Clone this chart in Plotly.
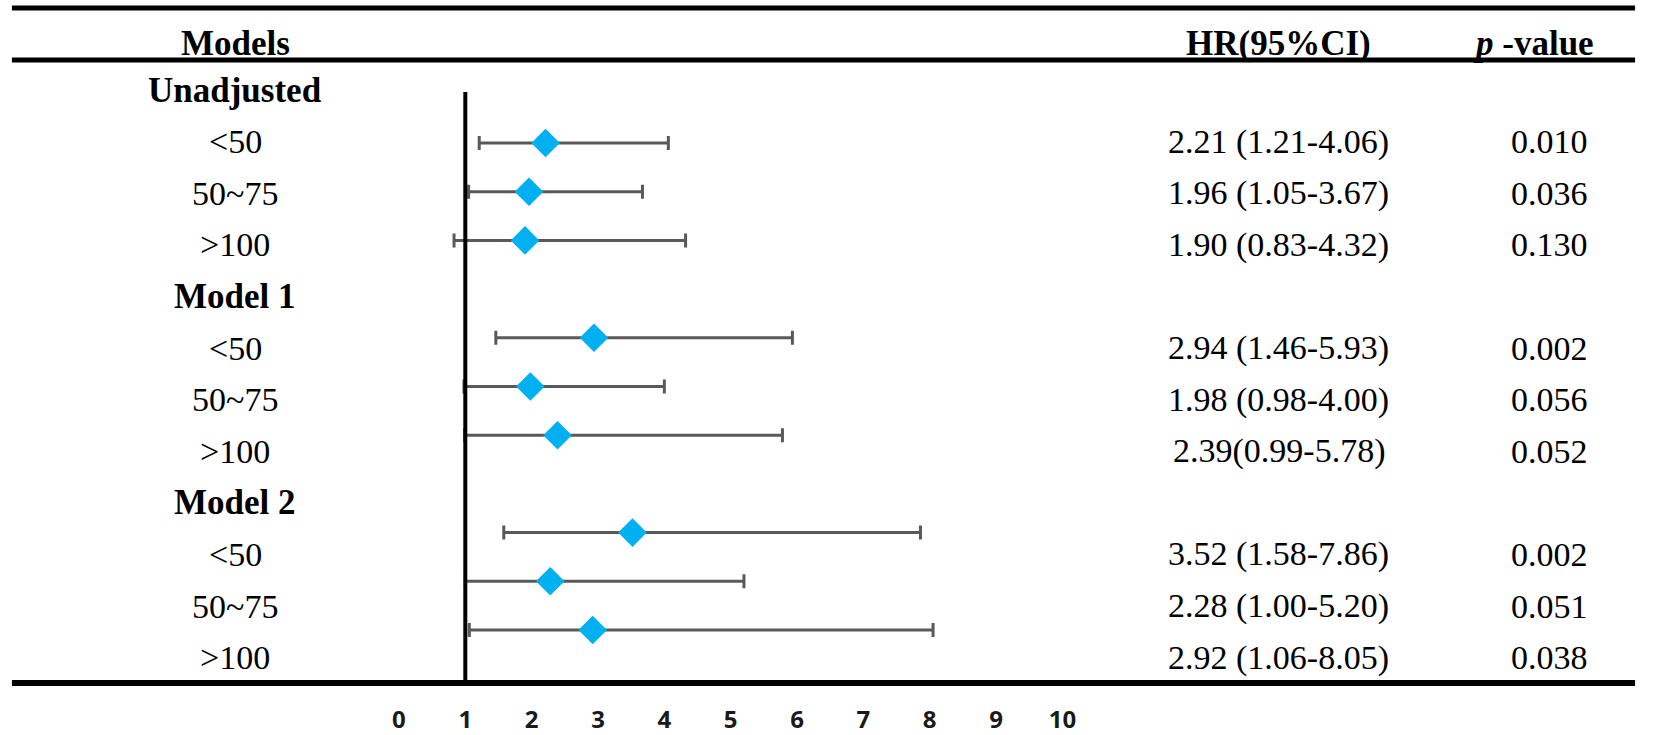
import plotly.graph_objects as go

W, H = 1654, 735

# ---------------- data ----------------
groups = ["Unadjusted", "Model 1", "Model 2"]
subgroups = ["<50", "50~75", ">100"]
hr = [2.21, 1.96, 1.90, 2.94, 1.98, 2.39, 3.52, 2.28, 2.92]
ci_low = [1.21, 1.05, 0.83, 1.46, 0.98, 0.99, 1.58, 1.00, 1.06]
ci_high = [4.06, 3.67, 4.32, 5.93, 4.00, 5.78, 7.86, 5.20, 8.05]
hr_text = ["2.21 (1.21-4.06)", "1.96 (1.05-3.67)", "1.90 (0.83-4.32)",
           "2.94 (1.46-5.93)", "1.98 (0.98-4.00)", "2.39(0.99-5.78)",
           "3.52 (1.58-7.86)", "2.28 (1.00-5.20)", "2.92 (1.06-8.05)"]
p_values = ["0.010", "0.036", "0.130", "0.002", "0.056", "0.052",
            "0.002", "0.051", "0.038"]
x_ticks = list(range(0, 11))
headers = ["Models", "HR(95%CI)", "<i>p</i> -value"]

# ---------------- layout helpers ----------------
def px_x(p):
    return p / W

def px_y(p):
    return 1 - p / H

# forest slots (group headers leave an empty slot)
slots = [4 * g + j for g in range(len(groups)) for j in range(len(subgroups))]
# table rows (group header rows + item rows)
item_rows = [4 * g + 1 + j for g in range(len(groups)) for j in range(len(subgroups))]
group_rows = [4 * g for g in range(len(groups))]

row_px0, row_step = 90, 51.6

def row_y(i):
    return px_y(row_px0 + row_step * i)

err_plus = [h - v for h, v in zip(ci_high, hr)]
err_minus = [v - l for v, l in zip(hr, ci_low)]

SERIF = "Liberation Serif"
FS = 34
FSB = 35

fig = go.Figure()
fig.add_trace(go.Scatter(
    x=hr, y=slots, mode="markers",
    marker=dict(symbol="diamond", size=22, color="#00B0F0", line=dict(width=0)),
    error_x=dict(type="data", symmetric=False, array=err_plus, arrayminus=err_minus,
                 color="#595959", thickness=3, width=7),
    showlegend=False, hoverinfo="skip",
))

annotations = []
label_x = px_x(231)
hr_x = px_x(1288)
p_x = px_x(1562)

for g, name in enumerate(groups):
    annotations.append(dict(x=label_x, y=row_y(group_rows[g]), xref="paper", yref="paper",
                            text=f"<b>{name}</b>", showarrow=False,
                            xanchor="center", yanchor="middle",
                            font=dict(family=SERIF, size=FSB, color="black")))
for k, row in enumerate(item_rows):
    sub = subgroups[k % len(subgroups)]
    annotations.append(dict(x=label_x, y=row_y(row), xref="paper", yref="paper",
                            text=sub.replace("<", "&lt;").replace(">", "&gt;"),
                            showarrow=False, xanchor="center", yanchor="middle",
                            font=dict(family=SERIF, size=FS, color="black")))
    annotations.append(dict(x=hr_x, y=row_y(row), xref="paper", yref="paper",
                            text=hr_text[k], showarrow=False,
                            xanchor="center", yanchor="middle",
                            font=dict(family=SERIF, size=FS, color="black")))
    annotations.append(dict(x=p_x, y=row_y(row), xref="paper", yref="paper",
                            text=p_values[k], showarrow=False,
                            xanchor="center", yanchor="middle",
                            font=dict(family=SERIF, size=FS, color="black")))

header_x = [label_x, hr_x, px_x(1546)]
for hx, ht in zip(header_x, headers):
    annotations.append(dict(x=hx, y=px_y(43), xref="paper", yref="paper",
                            text=f"<b>{ht}</b>", showarrow=False,
                            xanchor="center", yanchor="middle",
                            font=dict(family=SERIF, size=FSB, color="black")))

shapes = [
    # reference line at HR = 1
    dict(type="line", xref="x", yref="y domain", x0=1, x1=1, y0=0, y1=1,
         line=dict(color="black", width=4)),
    # table rules
    dict(type="line", xref="paper", yref="paper", x0=px_x(5), x1=px_x(1649),
         y0=px_y(8), y1=px_y(8), line=dict(color="black", width=5)),
    dict(type="line", xref="paper", yref="paper", x0=px_x(5), x1=px_x(1649),
         y0=px_y(60), y1=px_y(60), line=dict(color="black", width=5)),
    dict(type="line", xref="paper", yref="paper", x0=px_x(5), x1=px_x(1649),
         y0=px_y(683), y1=px_y(683), line=dict(color="black", width=6)),
]

y_top_px, y_bot_px = 92, 682
slot_px0, slot_step = 143, 48.7

fig.update_layout(
    width=W, height=H,
    margin=dict(l=0, r=0, t=0, b=0),
    paper_bgcolor="white", plot_bgcolor="white",
    showlegend=False,
    xaxis=dict(domain=[px_x(397), px_x(1069)], range=[0, 10],
               tickmode="array", tickvals=x_ticks, ticktext=[str(t) for t in x_ticks],
               showgrid=False, zeroline=False, showline=True, linecolor="#404040",
               linewidth=2, ticks="", ticklabelstandoff=15,
               tickfont=dict(family="Open Sans", size=24, color="#1a1a1a", weight="bold"),
               fixedrange=True),
    yaxis=dict(domain=[px_y(y_bot_px), px_y(y_top_px)],
               range=[(y_bot_px - slot_px0) / slot_step, (y_top_px - slot_px0) / slot_step],
               visible=False, showgrid=False, zeroline=False, fixedrange=True),
    annotations=annotations,
    shapes=shapes,
)

fig.write_html(
    "out.html",
    config={"displayModeBar": False},
    post_script="document.body.style.margin='0';document.body.style.overflow='hidden';",
)
